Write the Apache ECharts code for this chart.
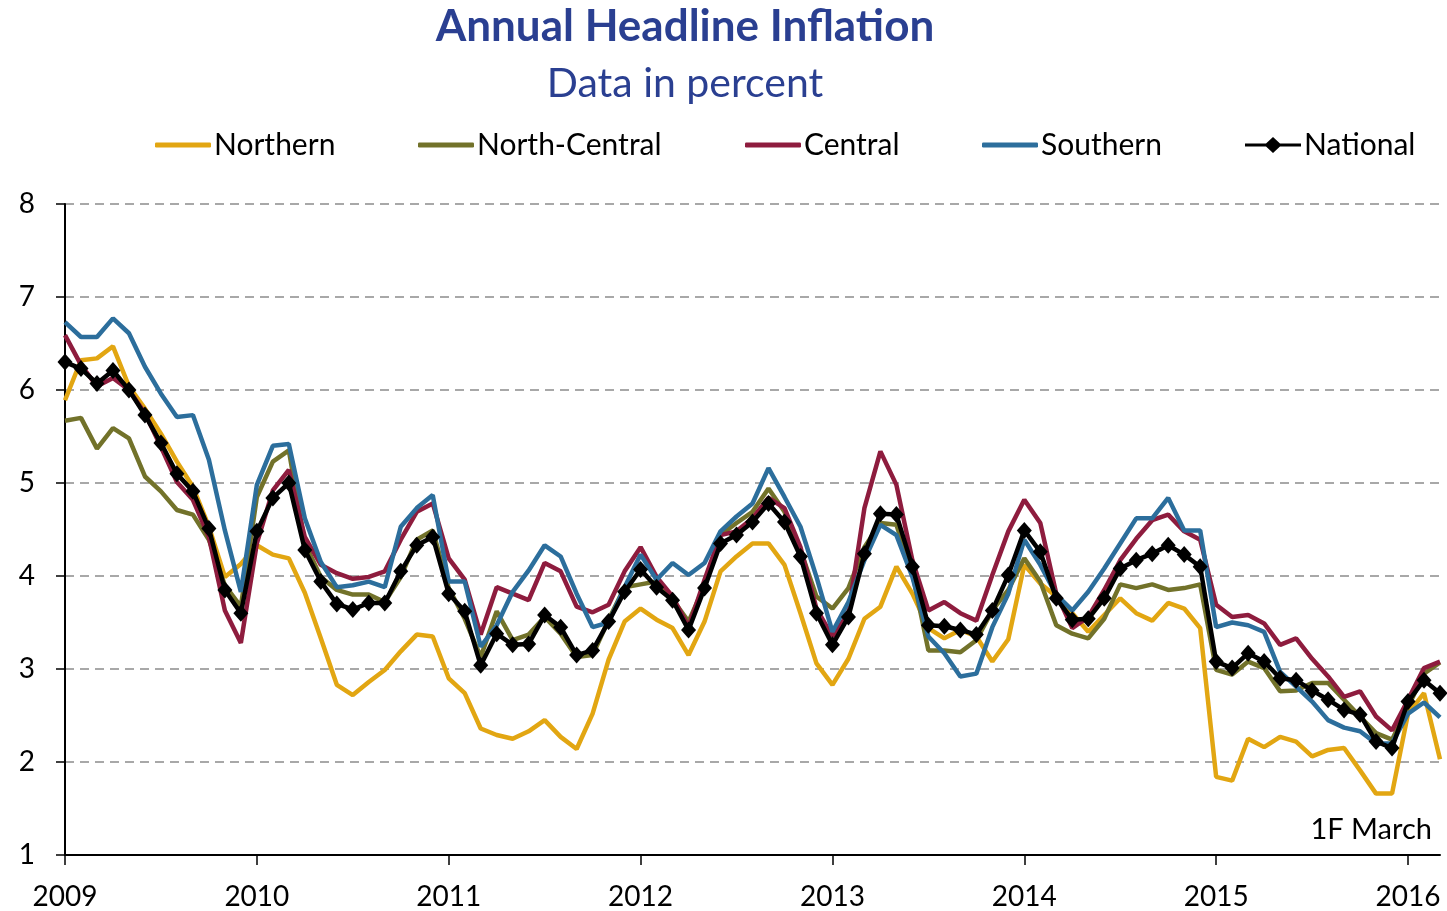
<!DOCTYPE html>
<html>
<head>
<meta charset="utf-8">
<title>Annual Headline Inflation</title>
<script src="https://cdn.jsdelivr.net/npm/echarts@6/dist/echarts.min.js"></script>
<style>
html, body { margin: 0; padding: 0; background: #ffffff; }
#main { width: 1447px; height: 911px; }
</style>
</head>
<body>
<div id="main"></div>
<script>
// monthly, Jan 2009 .. Mar 2016 (last point = first fortnight of March)
var years = [2009, 2010, 2011, 2012, 2013, 2014, 2015, 2016];
var lastMonth = 3;

var northern = [5.89,6.32,6.34,6.47,6.04,5.80,5.53,5.23,4.96,4.53,3.99,4.13,
    4.33,4.23,4.19,3.82,3.33,2.83,2.72,2.86,2.99,3.19,3.37,3.35,
    2.90,2.74,2.36,2.29,2.25,2.33,2.45,2.27,2.14,2.52,3.10,3.51,
    3.65,3.53,3.44,3.15,3.51,4.05,4.21,4.35,4.35,4.12,3.60,3.06,
    2.83,3.11,3.54,3.67,4.10,3.81,3.44,3.33,3.42,3.35,3.08,3.32,
    4.12,3.92,3.78,3.60,3.40,3.58,3.76,3.60,3.52,3.71,3.65,3.44,
    1.84,1.80,2.25,2.16,2.27,2.22,2.06,2.13,2.15,1.91,1.66,1.66,
    2.52,2.74,2.03];
var northCentral = [5.67,5.70,5.37,5.59,5.48,5.07,4.91,4.71,4.66,4.39,3.90,3.67,
    4.85,5.23,5.35,4.35,3.99,3.85,3.80,3.80,3.72,3.99,4.39,4.49,
    3.87,3.54,3.13,3.62,3.31,3.37,3.56,3.38,3.13,3.15,3.53,3.88,
    3.91,3.94,3.75,3.51,3.90,4.44,4.57,4.69,4.94,4.69,4.28,3.78,
    3.65,3.87,4.31,4.57,4.55,4.03,3.20,3.20,3.18,3.31,3.63,3.85,
    4.19,3.94,3.47,3.38,3.33,3.54,3.91,3.87,3.91,3.85,3.87,3.91,
    2.99,2.94,3.08,3.01,2.76,2.77,2.85,2.85,2.67,2.49,2.31,2.24,
    2.59,2.95,3.07];
var central = [6.59,6.27,6.04,6.13,6.00,5.75,5.39,5.01,4.82,4.42,3.63,3.28,
    4.35,4.92,5.14,4.42,4.12,4.03,3.97,3.99,4.05,4.39,4.69,4.78,
    4.19,3.96,3.37,3.88,3.81,3.74,4.14,4.05,3.67,3.61,3.69,4.05,
    4.31,3.99,3.78,3.45,3.96,4.44,4.48,4.62,4.84,4.73,4.31,3.65,
    3.35,3.60,4.73,5.34,4.98,4.17,3.63,3.72,3.60,3.52,4.01,4.48,
    4.82,4.57,3.81,3.44,3.56,3.85,4.17,4.40,4.60,4.66,4.48,4.39,
    3.69,3.56,3.58,3.49,3.26,3.33,3.11,2.92,2.70,2.76,2.49,2.34,
    2.67,3.01,3.08];
var southern = [6.73,6.57,6.57,6.77,6.61,6.25,5.96,5.71,5.73,5.25,4.49,3.83,
    4.98,5.40,5.42,4.62,4.15,3.88,3.90,3.94,3.88,4.53,4.73,4.87,
    3.94,3.94,3.24,3.47,3.83,4.06,4.33,4.21,3.81,3.45,3.50,3.88,
    4.23,3.96,4.14,4.01,4.14,4.48,4.64,4.78,5.16,4.85,4.53,3.99,
    3.40,3.72,4.17,4.55,4.44,3.99,3.35,3.17,2.92,2.95,3.45,3.81,
    4.39,4.12,3.80,3.63,3.83,4.08,4.35,4.62,4.62,4.84,4.49,4.49,
    3.45,3.50,3.47,3.40,2.97,2.81,2.65,2.45,2.37,2.33,2.20,2.20,
    2.52,2.64,2.48];
var national = [6.30,6.23,6.07,6.21,6.00,5.73,5.43,5.10,4.91,4.51,3.85,3.60,
    4.48,4.84,5.00,4.28,3.94,3.70,3.64,3.71,3.71,4.05,4.33,4.42,
    3.81,3.62,3.04,3.38,3.26,3.27,3.58,3.45,3.15,3.20,3.51,3.83,
    4.07,3.88,3.74,3.42,3.87,4.35,4.44,4.58,4.78,4.58,4.21,3.60,
    3.26,3.56,4.24,4.67,4.66,4.10,3.47,3.46,3.42,3.37,3.63,4.01,
    4.49,4.26,3.76,3.53,3.54,3.76,4.08,4.17,4.24,4.33,4.23,4.10,
    3.08,3.01,3.17,3.08,2.90,2.88,2.77,2.67,2.56,2.51,2.22,2.15,
    2.65,2.88,2.74];

var seriesNames = ['Northern', 'North-Central', 'Central', 'Southern', 'National'];
var seriesColors = ['#e2a612', '#72722a', '#8e1c3e', '#2c6e9c', '#000000'];
var seriesData = [northern, northCentral, central, southern, national];
var legendLeft = [150, 413, 740, 977, 1240];
var note = '1F March';

// month categories 'YYYY-MM'
var months = [];
years.forEach(function (y, i) {
    var n = (i === years.length - 1) ? lastMonth : 12;
    for (var m = 1; m <= n; m++) {
        months.push(y + '-' + (m < 10 ? '0' + m : m));
    }
});

var mainDiv = document.getElementById('main');
var myChart = echarts.init(mainDiv);

var fontName = 'Lato';
// legend icon for National: thick line with a diamond in the middle
var diamondLine = 'path://M0,6.5L21,6.5L28,0L35,6.5L56,6.5L56,9.5L35,9.5L28,16L21,9.5L0,9.5Z';

var series = seriesNames.map(function (name, i) {
    var isNat = name === 'National';
    return {
        name: name,
        type: 'line',
        data: seriesData[i],
        z: isNat ? 5 : 2,
        symbol: isNat ? 'diamond' : 'none',
        symbolSize: isNat ? [15, 17] : 0,
        showSymbol: isNat,
        showAllSymbol: true,
        lineStyle: { color: seriesColors[i], width: 4.5 },
        itemStyle: { color: seriesColors[i] },
        emphasis: { disabled: true },
        animation: false
    };
});

var legends = seriesNames.map(function (name, i) {
    var isNat = name === 'National';
    return {
        data: [{ name: name, icon: isNat ? diamondLine : 'roundRect' }],
        left: legendLeft[i],
        top: isNat ? 125 : 125,
        height: 36,
        itemWidth: 56,
        itemHeight: isNat ? 16 : 5,
        itemGap: 0,
        itemStyle: { color: seriesColors[i] },
        textStyle: { fontFamily: fontName, fontSize: 30, color: '#000000', padding: [0, 0, 0, -2] }
    };
});

var option = {
    backgroundColor: '#ffffff',
    title: [
        {
            text: 'Annual Headline Inflation',
            left: 680,
            top: 0,
            textAlign: 'center',
            textStyle: { fontFamily: fontName, fontSize: 44, fontWeight: 'bold', color: '#2a3f91' }
        },
        {
            text: 'Data in percent',
            left: 680,
            top: 58,
            textAlign: 'center',
            textStyle: { fontFamily: fontName, fontSize: 41, fontWeight: 'normal', color: '#2a3f91' }
        }
    ],
    legend: legends,
    grid: {
        left: 65,
        right: 7,
        top: 204,
        bottom: 56,
        containLabel: false
    },
    xAxis: {
        type: 'category',
        boundaryGap: false,
        data: months,
        axisLine: { lineStyle: { color: '#000000', width: 2 } },
        axisTick: {
            show: true,
            length: 10,
            interval: function (idx) { return idx % 12 === 0; },
            lineStyle: { color: '#000000', width: 1.5 }
        },
        axisLabel: {
            interval: function (idx) { return idx % 12 === 0; },
            formatter: function (v) { return v.slice(0, 4); },
            margin: 28,
            fontFamily: fontName,
            fontSize: 28,
            color: '#000000'
        },
        splitLine: { show: false }
    },
    yAxis: {
        type: 'value',
        min: 1,
        max: 8,
        interval: 1,
        axisLine: { show: true, lineStyle: { color: '#000000', width: 2 } },
        axisTick: { show: true, length: 9, lineStyle: { color: '#000000', width: 1.5 } },
        axisLabel: {
            margin: 30,
            fontFamily: fontName,
            fontSize: 28,
            color: '#000000'
        },
        splitLine: {
            show: true,
            lineStyle: { color: '#8c8c8c', width: 1.5, type: [9, 6] }
        }
    },
    graphic: [
        {
            type: 'text',
            right: 15,
            top: 815,
            style: { text: note, fontFamily: fontName, fontSize: 29, fill: '#000000' }
        }
    ],
    series: series
};
myChart.setOption(option);
window.onresize = function () {
    myChart.resize();
};
</script>
</body>
</html>
